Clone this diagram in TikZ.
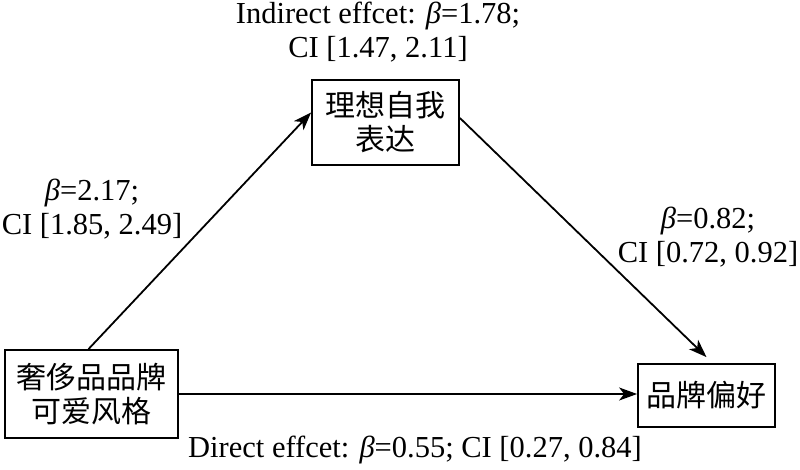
\documentclass[tikz,border=0pt]{standalone}
\usepackage{fontspec}
\setmainfont{Liberation Serif}
\newfontfamily\cjk{Noto Sans CJK SC}
\usetikzlibrary{arrows.meta}
\begin{document}
\begin{tikzpicture}[x=1pt,y=-1pt,
  box/.style={draw,line width=1.8pt,inner sep=0pt,align=center,font=\cjk\fontsize{30}{34}\selectfont},
  lbl/.style={align=center,inner sep=0pt,font=\fontsize{30.5}{34}\selectfont},
  conn/.style={line width=1.8pt,-{Stealth[length=18pt,width=13pt,inset=5pt]}}]
\useasboundingbox (0,0) rectangle (800,470);
\node[box,minimum width=173pt,minimum height=88pt] (A) at (91.5,394) {奢侈品品牌\\可爱风格};
\node[box,minimum width=147pt,minimum height=85pt] (M) at (385.5,122.5) {理想自我\\表达};
\node[box,minimum width=137pt,minimum height=63pt] (Y) at (706.5,395.5) {品牌偏好};
\node[lbl] (li) at (378,32) {Indirect effcet: {\itshape β}=1.78;\\CI [1.47, 2.11]};
\node[lbl] (la) at (92,209) {{\itshape β}=2.17;\\CI [1.85, 2.49]};
\node[lbl] (lb) at (708,237) {{\itshape β}=0.82;\\CI [0.72, 0.92]};
\node[lbl] (ld) at (415,450) {Direct effcet: {\itshape β}=0.55; CI [0.27, 0.84]};
\draw[conn] ([xshift=-3pt]A.north) -- ([yshift=10pt]M.west);
\draw[conn] ([yshift=4.5pt]M.east) -- ([yshift=6pt]Y.north);
\draw[conn] (A.east) -- (A.east -| Y.west);
\end{tikzpicture}
\end{document}
